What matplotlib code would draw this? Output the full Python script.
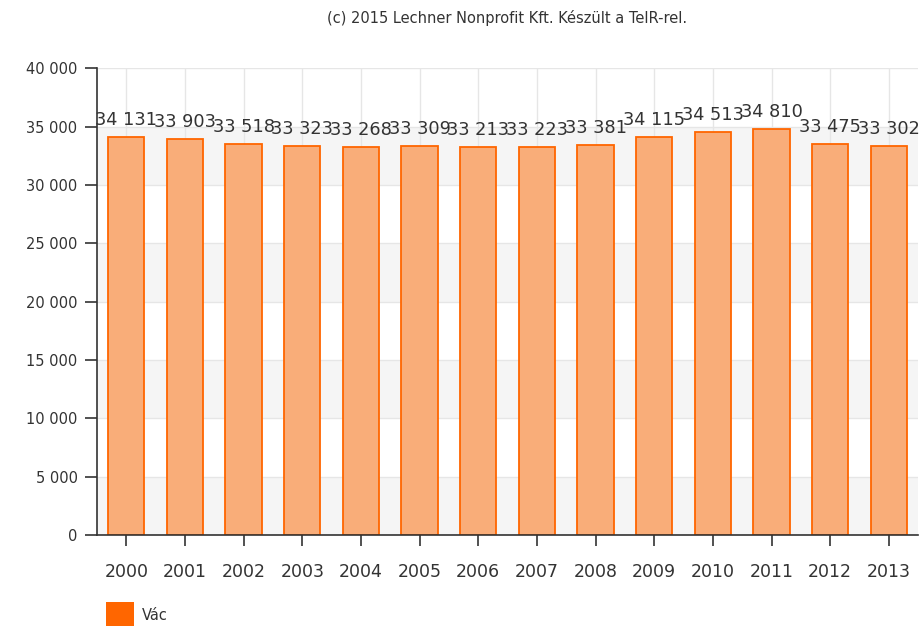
import matplotlib
matplotlib.use("Agg")
import matplotlib.pyplot as plt
from matplotlib.patches import Rectangle

years = ["2000", "2001", "2002", "2003", "2004", "2005", "2006",
         "2007", "2008", "2009", "2010", "2011", "2012", "2013"]
values = [34131, 33903, 33518, 33323, 33268, 33309, 33213,
          33223, 33381, 34115, 34513, 34810, 33475, 33302]
yticks = [0, 5000, 10000, 15000, 20000, 25000, 30000, 35000, 40000]
title = "(c) 2015 Lechner Nonprofit Kft. Készült a TeIR-rel."
series_name = "Vác"

def fmt(v):
    return f"{v:,}".replace(",", " ")

fig = plt.figure(figsize=(9.2, 6.26), dpi=100)
ax = fig.add_axes([0.1054, 0.1454, 0.8926, 0.7456])

x = list(range(len(years)))
ax.set_xlim(-0.5, len(years) - 0.5)
ax.set_ylim(0, 40000)

# alternating bands
for i in range(0, len(yticks) - 1, 2):
    ax.axhspan(yticks[i], yticks[i + 1], color="#f5f5f5", zorder=0, lw=0)
for t in yticks:
    ax.axhline(t, color="#e6e6e6", lw=1, zorder=0.5)
for xi in x:
    ax.axvline(xi, color="#e6e6e6", lw=1, zorder=0.5)

ax.bar(x, values, width=0.62, color="#f9ad79", edgecolor="#ff6600",
       linewidth=1.3, zorder=2)
for xi, v in zip(x, values):
    ax.text(xi, v + 700, fmt(v), ha="center", va="bottom",
            fontsize=12.8, color="#333333", zorder=3)

ax.set_yticks(yticks)
ax.set_yticklabels([fmt(t) for t in yticks], fontsize=10.5, color="#333333")
ax.set_xticks(x)
ax.set_xticklabels(years, fontsize=12.5, color="#333333")
ax.tick_params(axis="y", length=9, width=1.2, color="#333333", pad=5)
ax.tick_params(axis="x", length=8, width=1.2, color="#333333", pad=12)

for s in ["top", "right"]:
    ax.spines[s].set_visible(False)
ax.spines["left"].set_color("#333333")
ax.spines["bottom"].set_color("#333333")
ax.spines["left"].set_linewidth(1.2)
ax.spines["bottom"].set_linewidth(1.2)

fig.text(0.551, 0.971, title, ha="center", va="center", fontsize=10.5,
         color="#333333", family=["Liberation Sans Narrow", "DejaVu Sans"])

# legend
fig.patches.append(Rectangle((106 / 920, 0), 28 / 920, 24 / 626,
                             transform=fig.transFigure,
                             facecolor="#ff6600", edgecolor="none"))
fig.text(142 / 920, 11 / 626, series_name, ha="left", va="center",
         fontsize=10.5, color="#333333")

fig.savefig("out.png", dpi=100)
